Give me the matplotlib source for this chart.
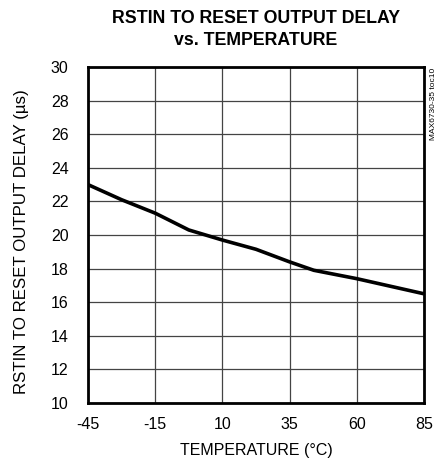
import matplotlib.pyplot as plt
import numpy as np

plt.rcParams['font.family'] = ['Liberation Sans', 'DejaVu Sans']

tick_labels = [-45, -15, 10, 35, 60, 85]
temps = [-45, -30, -15, -2.5, 10, 22.5, 35, 44, 60, 72.5, 85]
delay = [23.0, 22.1, 21.3, 20.3, 19.7, 19.15, 18.4, 17.9, 17.4, 16.95, 16.5]

# the chart puts the labelled temperatures at equal spacing
xpos = np.interp(temps, tick_labels, np.arange(len(tick_labels)))

fig = plt.figure(figsize=(4.41, 4.66), dpi=100)
ax = fig.add_axes([0.1995, 0.1352, 0.762, 0.721])

ax.plot(xpos, delay, color='black', linewidth=2.6, solid_capstyle='butt', zorder=3)

ax.set_xlim(0, len(tick_labels) - 1)
ax.set_ylim(10, 30)
ax.set_xticks(np.arange(len(tick_labels)))
ax.set_xticklabels([str(t) for t in tick_labels])
ax.set_yticks(np.arange(10, 31, 2))
ax.grid(True, color='#444444', linewidth=0.9)
ax.tick_params(length=0, labelsize=11.5, pad=10)
ax.tick_params(axis='y', pad=14)
for s in ax.spines.values():
    s.set_linewidth(2)

ax.set_xlabel('TEMPERATURE (°C)', fontsize=11.5, labelpad=8)
ax.set_ylabel('RSTIN TO RESET OUTPUT DELAY (µs)', fontsize=12.2)
ax.yaxis.set_label_coords(-0.176, 0.479)
ax.text(0.5, 1.0 + 57 / 336, 'RSTIN TO RESET OUTPUT DELAY\nvs. TEMPERATURE',
        transform=ax.transAxes, fontsize=12.8, fontweight='bold',
        ha='center', va='top', linespacing=1.35)
fig.text(0.984, 0.855, 'MAX6730-35 toc10', rotation=90, fontsize=6,
         ha='center', va='top')

fig.savefig('out.png', dpi=100)
